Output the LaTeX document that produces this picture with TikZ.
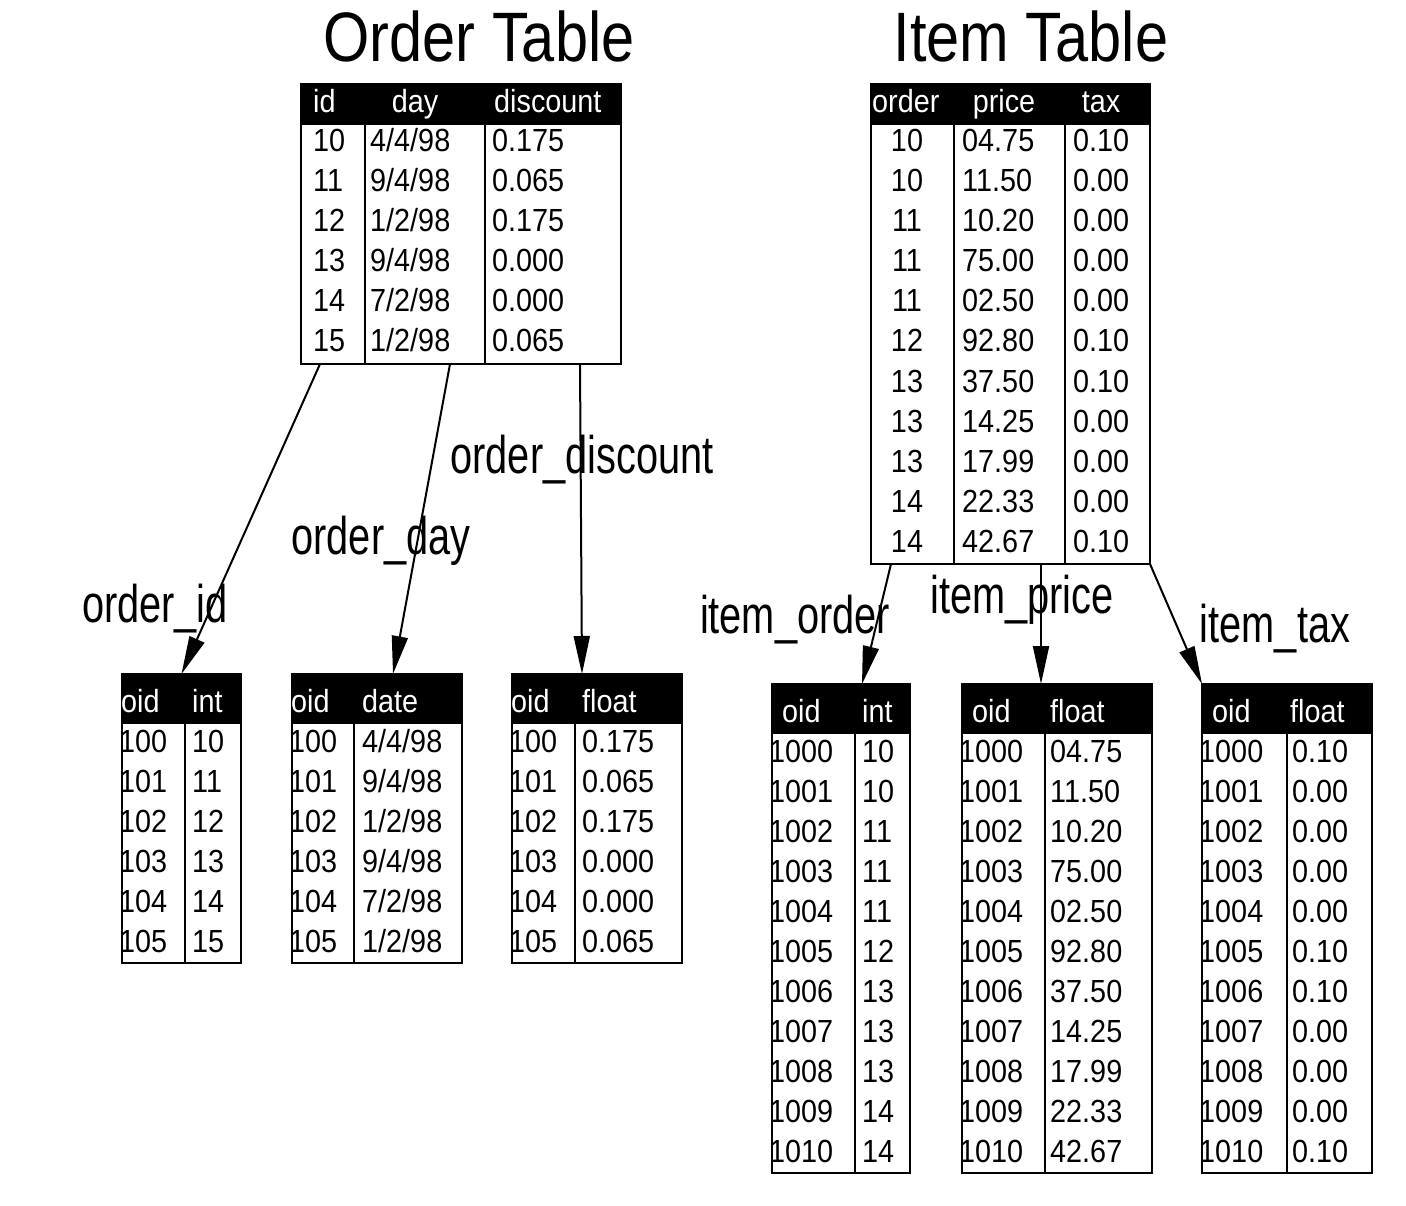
\documentclass[tikz,border=0pt]{standalone}
\usepackage{fontspec}
\setmainfont{Liberation Sans}
\newfontfamily\cellfont{Liberation Sans}[FakeStretch=0.9]
\newfontfamily\lblfont{Liberation Sans}[FakeStretch=0.75]
\newfontfamily\ttlfont{Liberation Sans}[FakeStretch=0.85]
\usetikzlibrary{arrows.meta}

\tikzset{
  hdr/.style={draw=black, fill=black, line width=1.5pt, inner sep=0pt, outer sep=0pt, anchor=north west},
  tbody/.style={draw=black, line width=1.5pt, inner sep=0pt, outer sep=0pt, anchor=north west},
  sep/.style={line width=1.5pt},
  cell/.style={inner sep=0pt, anchor=base west, font=\cellfont\fontsize{32}{34}\selectfont},
  ccell/.style={cell, anchor=base},
  hcell/.style={cell, text=white},
  hccell/.style={ccell, text=white},
  lbl/.style={inner sep=0pt, anchor=base, font=\lblfont\fontsize{53}{56}\selectfont},
  ttl/.style={inner sep=0pt, anchor=base, font=\ttlfont\fontsize{70}{74}\selectfont},
  arr/.style={-{Triangle[length=38pt, width=16pt]}, line width=2pt}
}

% header bar + body box of one table: name, x, y, width, header height, body height
\newcommand{\dbbox}[6]{%
  \node[hdr, minimum width=#4pt, minimum height=#5pt] (#1H) at (#2,#3) {};
  \node[tbody, minimum width=#4pt, minimum height=#6pt] (#1B) at (#1H.south west) {};
}

\begin{document}
\begin{tikzpicture}[x=1pt, y=-1pt]
  \useasboundingbox (0,0) rectangle (1406,1206);
  \fill[white] (0,0) rectangle (1406,1206);

  % titles
  \node[ttl] (ordTitle) at (479,62) {Order Table};
  \node[ttl] (itmTitle) at (1031,62) {Item Table};

  % order table
  \dbbox{ord}{301}{84}{320}{40}{240}
  \draw[sep] (365,124) -- (365,364);
  \draw[sep] (485,124) -- (485,364);
  \node[hcell] (ordH1) at (313,113) {id};
  \node[hccell] (ordH2) at (415,113) {day};
  \node[hcell] (ordH3) at (494,113) {discount};
  \foreach \k/\d/\c [count=\i from 0] in {10/{4/4/98}/0.175, 11/{9/4/98}/0.065,
      12/{1/2/98}/0.175, 13/{9/4/98}/0.000, 14/{7/2/98}/0.000, 15/{1/2/98}/0.065} {
    \node[cell] (ord-\i-1) at (313,152+40*\i) {\k};
    \node[cell] (ord-\i-2) at (370,152+40*\i) {\d};
    \node[cell] (ord-\i-3) at (492,152+40*\i) {\c};
  }

  % item table
  \dbbox{itm}{871}{84}{279}{40}{440}
  \draw[sep] (954,124) -- (954,564);
  \draw[sep] (1065,124) -- (1065,564);
  \node[hcell] (itmH1) at (872,113) {order};
  \node[hccell] (itmH2) at (1004,113) {price};
  \node[hccell] (itmH3) at (1101,113) {tax};
  \foreach \k/\p/\t [count=\i from 0] in {10/04.75/0.10, 10/11.50/0.00, 11/10.20/0.00,
      11/75.00/0.00, 11/02.50/0.00, 12/92.80/0.10, 13/37.50/0.10, 13/14.25/0.00,
      13/17.99/0.00, 14/22.33/0.00, 14/42.67/0.10} {
    \node[ccell] (itm-\i-1) at (907,152+40*\i) {\k};
    \node[cell] (itm-\i-2) at (962,152+40*\i) {\p};
    \node[cell] (itm-\i-3) at (1073,152+40*\i) {\t};
  }

  % order columns
  \dbbox{ordId}{122}{674}{119}{49}{240}
  \dbbox{ordDay}{292}{674}{170}{49}{240}
  \dbbox{ordDisc}{512}{674}{170}{49}{240}
  \draw[sep] (185,723) -- (185,963);
  \draw[sep] (354,723) -- (354,963);
  \draw[sep] (575,723) -- (575,963);
  \node[hcell] (ordIdH1) at (121,712) {oid};
  \node[hcell] (ordIdH2) at (192,712) {int};
  \node[hcell] (ordDayH1) at (291,712) {oid};
  \node[hcell] (ordDayH2) at (362,712) {date};
  \node[hcell] (ordDiscH1) at (511,712) {oid};
  \node[hcell] (ordDiscH2) at (582,712) {float};
  \foreach \o/\k/\d/\c [count=\i from 0] in {100/10/{4/4/98}/0.175, 101/11/{9/4/98}/0.065,
      102/12/{1/2/98}/0.175, 103/13/{9/4/98}/0.000, 104/14/{7/2/98}/0.000, 105/15/{1/2/98}/0.065} {
    \node[cell] (ordId-\i-1) at (119,752+40*\i) {\o};
    \node[cell] (ordId-\i-2) at (192,752+40*\i) {\k};
    \node[cell] (ordDay-\i-1) at (289,752+40*\i) {\o};
    \node[cell] (ordDay-\i-2) at (362,752+40*\i) {\d};
    \node[cell] (ordDisc-\i-1) at (509,752+40*\i) {\o};
    \node[cell] (ordDisc-\i-2) at (582,752+40*\i) {\c};
  }

  % item columns
  \dbbox{itmOrd}{772}{684}{138}{49}{440}
  \dbbox{itmPrc}{962}{684}{190}{49}{440}
  \dbbox{itmTax}{1202}{684}{170}{49}{440}
  \draw[sep] (855,733) -- (855,1173);
  \draw[sep] (1045,733) -- (1045,1173);
  \draw[sep] (1287,733) -- (1287,1173);
  \node[hcell] (itmOrdH1) at (782,722) {oid};
  \node[hcell] (itmOrdH2) at (862,722) {int};
  \node[hcell] (itmPrcH1) at (972,722) {oid};
  \node[hcell] (itmPrcH2) at (1050,722) {float};
  \node[hcell] (itmTaxH1) at (1212,722) {oid};
  \node[hcell] (itmTaxH2) at (1290,722) {float};
  \foreach \o/\k/\p/\t [count=\i from 0] in {1000/10/04.75/0.10, 1001/10/11.50/0.00,
      1002/11/10.20/0.00, 1003/11/75.00/0.00, 1004/11/02.50/0.00, 1005/12/92.80/0.10,
      1006/13/37.50/0.10, 1007/13/14.25/0.00, 1008/13/17.99/0.00, 1009/14/22.33/0.00,
      1010/14/42.67/0.10} {
    \node[cell] (itmOrd-\i-1) at (769,762+40*\i) {\o};
    \node[cell] (itmOrd-\i-2) at (862,762+40*\i) {\k};
    \node[cell] (itmPrc-\i-1) at (959,762+40*\i) {\o};
    \node[cell] (itmPrc-\i-2) at (1050,762+40*\i) {\p};
    \node[cell] (itmTax-\i-1) at (1199,762+40*\i) {\o};
    \node[cell] (itmTax-\i-2) at (1292,762+40*\i) {\t};
  }

  % edge labels
  \node[lbl] (lblOrdId) at (155,622) {order\_id};
  \node[lbl] (lblOrdDay) at (381,554) {order\_day};
  \node[lbl] (lblOrdDisc) at (582,473) {order\_discount};
  \node[lbl] (lblItmOrd) at (795,633) {item\_order};
  \node[lbl] (lblItmPrc) at (1022,613) {item\_price};
  \node[lbl] (lblItmTax) at (1275,642) {item\_tax};

  % edges
  \draw[arr] ([xshift=19]ordB.south west) -- (ordIdH.north);
  \draw[arr] ([xshift=149]ordB.south west) -- ([xshift=16]ordDayH.north);
  \draw[arr] ([xshift=279]ordB.south west) -- ([xshift=-15]ordDiscH.north);
  \draw[arr] ([xshift=20]itmB.south west) -- ([xshift=21]itmOrdH.north);
  \draw[arr] ([xshift=170]itmB.south west) -- ([xshift=-16]itmPrcH.north);
  \draw[arr] (itmB.south east) -- (itmTaxH.north west);
\end{tikzpicture}
\end{document}
